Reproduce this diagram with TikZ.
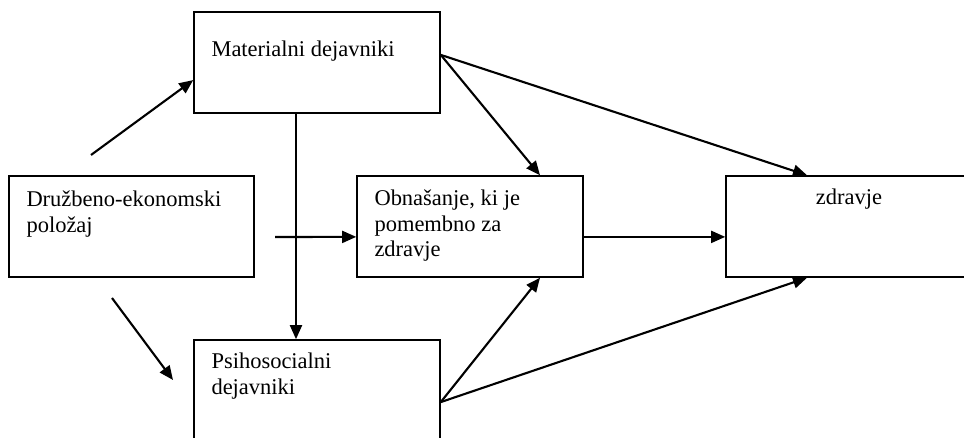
\documentclass[tikz,border=0pt]{standalone}
\usepackage{fontspec}
\setmainfont{Liberation Serif}
\usetikzlibrary{arrows.meta, positioning, calc}

\begin{document}
\begin{tikzpicture}[
    box/.style={draw,line width=1.1pt,
                minimum width=6.15cm, minimum height=2.525cm,
                inner sep=0pt},
    txt/.style={anchor=base west,inner sep=0pt,align=left,
                font=\fontsize{16}{18}\selectfont},
    arr/.style={-{Triangle[length=10pt,width=8.5pt]},line width=1.5pt},
  ]
    \useasboundingbox (0,0) rectangle (24.1,10.95);
    \clip (0,0) rectangle (24.1,10.95);

    %% Boxes ──────────────────────────────────
    \node[box] (mat) at (7.925,9.3875) {};
    \node[box, minimum width=6.125cm] (dru) at (3.2875,5.2875) {};
    \node[box, minimum width=5.65cm]  (obn) at (11.75,5.2875) {};
    \node[box] (zdr) at (21.225,5.2875) {};
    \node[box] (psi) at (7.925,1.1875) {};

    %% Labels (base = last line) ──────────────
    \node[txt] (matT) at ([xshift=0.45cm,yshift=-1.125cm]mat.north west)
          {Materialni dejavniki};
    \node[txt] (druT) at ([xshift=0.45cm,yshift=-1.42cm]dru.north west)
          {Družbeno-ekonomski\\položaj};
    \node[txt] (obnT) at ([xshift=0.45cm,yshift=-2.03cm]obn.north west)
          {Obnašanje, ki je\\pomembno za\\zdravje};
    \node[txt] (psiT) at ([xshift=0.45cm,yshift=-1.375cm]psi.north west)
          {Psihosocialni\\dejavniki};
    \node[txt, anchor=base] (zdrT) at ([yshift=-0.725cm]zdr.north) {zdravje};

    %% Free arrow ends ────────────────────────
    \coordinate (s1) at (2.275,7.075);
    \coordinate (s2) at (2.8,3.5);
    \coordinate (e2) at (4.325,1.45);
    \coordinate (s3) at (6.875,5.025);

    %% Arrows ─────────────────────────────────
    \draw[arr] (s1) -- ([yshift=-0.44cm]mat.west);
    \draw[arr] (s2) -- (e2);
    \draw[arr] (s3) -- ([yshift=-0.26cm]obn.west);
    \draw[arr] ([xshift=-0.525cm]mat.south) -- ([xshift=-0.525cm]psi.north);
    \draw[arr] ([yshift=0.19cm]mat.east) -- ([xshift=1.75cm]obn.north);
    \draw[arr] ([yshift=0.19cm]mat.east) -- ([xshift=-1.05cm]zdr.north);
    \draw[arr] ([yshift=-0.26cm]obn.east) -- ([yshift=-0.26cm]zdr.west);
    \draw[arr] ([yshift=-0.29cm]psi.east) -- ([xshift=1.75cm]obn.south);
    \draw[arr] ([yshift=-0.29cm]psi.east) -- ([xshift=-1.05cm]zdr.south);

  \end{tikzpicture}
\end{document}
